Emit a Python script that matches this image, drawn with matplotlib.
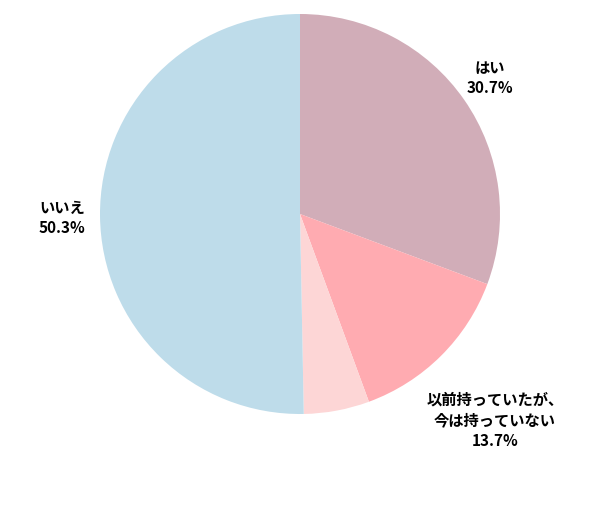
import matplotlib.pyplot as plt

plt.rcParams['font.family'] = ['Noto Sans CJK JP', 'DejaVu Sans']

labels = ["はい", "以前持っていたが、\n今は持っていない", "", "いいえ"]
values = [30.7, 13.7, 5.3, 50.3]
pcts = ["30.7%", "13.7%", "", "50.3%"]
colors = ["#D1ADB8", "#FFABB1", "#FDD6D6", "#BEDCEA"]

fig = plt.figure(figsize=(6, 5.1), dpi=100)
ax = fig.add_axes([0, 0, 1, 1])
ax.set_xlim(0, 600)
ax.set_ylim(0, 510)
ax.set_aspect("equal")
ax.axis("off")

ax.pie(values, colors=colors, startangle=90, counterclock=False,
       center=(300, 295), radius=200, frame=True,
       wedgeprops=dict(linewidth=0))
ax.axis("off")
ax.set_xlim(0, 600)
ax.set_ylim(0, 510)

# label positions (pixel coords, y measured from top)
pos = [(490, 78), (495, 420), None, (62, 218)]
for lab, p, xy in zip(labels, pcts, pos):
    if xy is None:
        continue
    x, y = xy
    nlines = lab.count("\n") + 1
    ax.text(x, 510 - y, lab + "\n" + p, ha="center", va="center",
            fontsize=11, fontweight="bold", linespacing=1.35)

fig.savefig("out.png", dpi=100)
